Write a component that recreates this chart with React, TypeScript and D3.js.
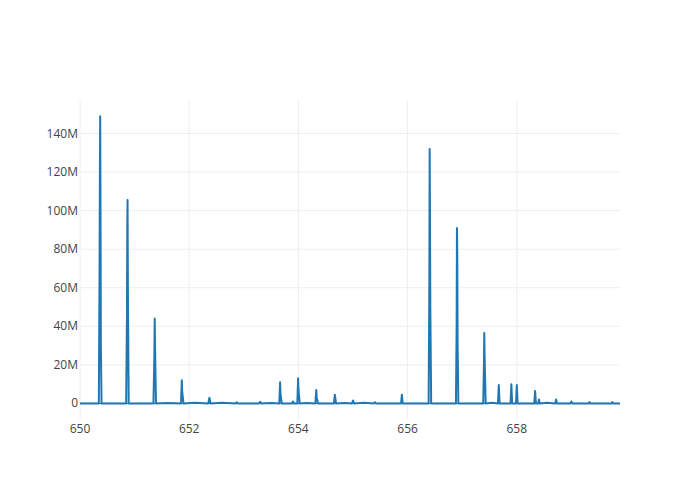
import React from "react";
import * as d3 from "d3";

// m/z values and intensities (in millions)
const mz: number[] = [
  650.0, 650.2, 650.345, 650.358, 650.364, 650.37, 650.376, 650.382, 650.395,
  650.6, 650.845, 650.86, 650.866, 650.871, 650.877, 650.892,
  651.1, 651.345, 651.362, 651.368, 651.374, 651.392,
  651.6, 651.85, 651.865, 651.872, 651.895,
  652.1, 652.35, 652.37, 652.39, 652.6, 652.85, 652.87, 652.89,
  653.0, 653.28, 653.3, 653.32, 653.5, 653.65, 653.665, 653.672, 653.695,
  653.88, 653.9, 653.92, 653.98, 653.995, 654.002, 654.025,
  654.15, 654.31, 654.328, 654.335, 654.36, 654.65, 654.667, 654.69,
  654.85, 654.98, 655.0, 655.02, 655.2, 655.38, 655.4, 655.42,
  655.7, 655.88, 655.895, 655.91,
  656.1, 656.385, 656.398, 656.404, 656.41, 656.416, 656.432,
  656.6, 656.885, 656.898, 656.904, 656.91, 656.916, 656.93,
  657.15, 657.385, 657.398, 657.404, 657.41, 657.43,
  657.55, 657.655, 657.67, 657.685, 657.8, 657.885, 657.9, 657.915,
  657.985, 658.0, 658.015, 658.2, 658.32, 658.335, 658.35, 658.39, 658.405, 658.42,
  658.55, 658.705, 658.72, 658.735, 658.9, 658.985, 659.0, 659.015,
  659.2, 659.315, 659.33, 659.345, 659.5, 659.735, 659.75, 659.765, 659.9,
];
const intensity: number[] = [
  0, 0, 0, 68, 118, 149, 100, 30, 0,
  0, 0, 45, 92, 105.5, 60, 0,
  0, 0, 25, 44, 30, 0,
  0.2, 0, 12, 6, 0,
  0.3, 0, 3, 0, 0.3, 0, 0.6, 0,
  0, 0, 0.8, 0, 0.2, 0, 11, 5, 0,
  0, 1, 0, 0, 13, 7, 0,
  0.2, 0, 7, 3, 0, 0, 4.5, 0,
  0.2, 0, 1.5, 0, 0.3, 0, 0.6, 0,
  0, 0, 4.5, 0,
  0, 0, 60, 132, 98, 50, 0,
  0, 0, 40, 91, 77, 30, 0,
  0, 0, 20, 36.5, 25, 0,
  0.3, 0, 9.5, 0, 0, 0, 10, 0,
  0, 9.5, 0, 0, 0, 6.5, 0, 0, 2, 0,
  0.3, 0, 2, 0, 0, 0, 1, 0,
  0, 0, 0.7, 0, 0, 0, 0.7, 0, 0,
];
const xTicks: number[] = [650, 652, 654, 656, 658];
const yTicks: number[] = [0, 20, 40, 60, 80, 100, 120, 140];

const W = 700;
const H = 500;
const M = { l: 80, r: 80, t: 100, b: 80 };

export default function App() {
  const x = d3.scaleLinear().domain([650, 659.89]).range([M.l, W - M.r]);
  const y = d3.scaleLinear().domain([-8.6, 157.4]).range([H - M.b, M.t]);
  const pts = mz.map((m, i) => [m, intensity[i]] as [number, number]);
  const line = d3
    .line<[number, number]>()
    .x((d) => x(d[0]))
    .y((d) => y(d[1]));
  const fmt = (v: number) => (v === 0 ? "0" : `${v}M`);
  return (
    <svg
      width={W}
      height={H}
      style={{ position: "absolute", left: 0, top: 0, background: "#fff" }}
      fontFamily="'Open Sans', verdana, arial, sans-serif"
    >
      <defs>
        <clipPath id="plotclip">
          <rect x={M.l} y={M.t} width={W - M.l - M.r} height={H - M.t - M.b} />
        </clipPath>
      </defs>
      {xTicks.map((t) => (
        <line
          key={"gx" + t}
          x1={x(t)}
          x2={x(t)}
          y1={M.t}
          y2={H - M.b}
          stroke="#eee"
          strokeWidth={1}
        />
      ))}
      {yTicks.map((t) => (
        <line
          key={"gy" + t}
          x1={M.l}
          x2={W - M.r}
          y1={y(t)}
          y2={y(t)}
          stroke="#eee"
          strokeWidth={1}
        />
      ))}
      <line x1={M.l} x2={W - M.r} y1={y(0)} y2={y(0)} stroke="#444" strokeWidth={1} />
      <path
        d={line(pts) || ""}
        fill="none"
        stroke="#1f77b4"
        strokeWidth={2}
        strokeLinejoin="round"
        clipPath="url(#plotclip)"
      />
      {xTicks.map((t) => (
        <text
          key={"tx" + t}
          x={x(t)}
          y={H - M.b + 13}
          textAnchor="middle"
          fontSize={12}
          fill="#444"
        >
          {t}
        </text>
      ))}
      {yTicks.map((t) => (
        <text
          key={"ty" + t}
          x={M.l - 2}
          y={y(t) + 4}
          textAnchor="end"
          fontSize={12}
          fill="#444"
        >
          {fmt(t)}
        </text>
      ))}
    </svg>
  );
}
